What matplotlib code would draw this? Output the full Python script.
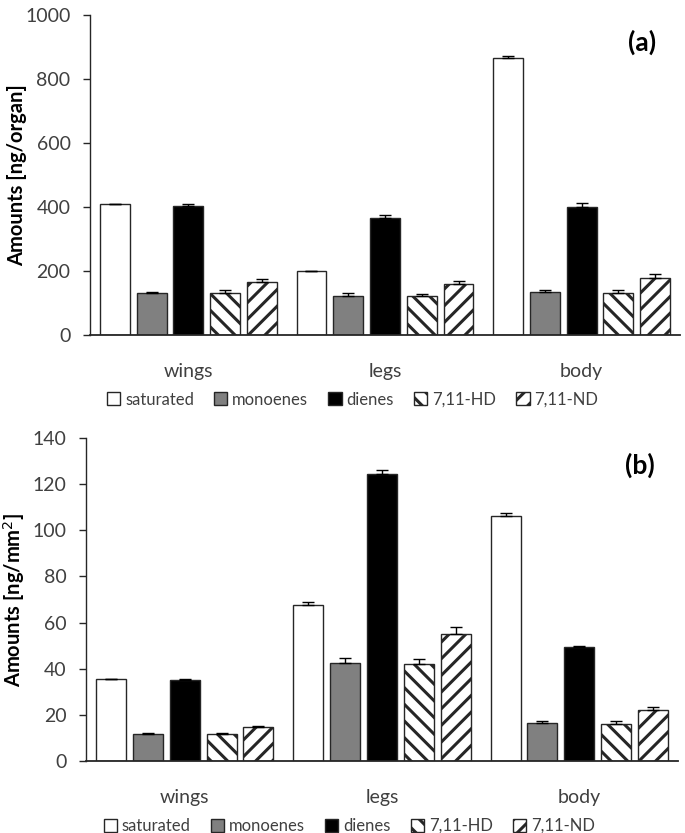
import matplotlib.pyplot as plt
import numpy as np

plt.rcParams['font.family'] = ['Lato', 'DejaVu Sans']
plt.rcParams['hatch.linewidth'] = 2.2

organs = ["wings", "legs", "body"]
series = ["saturated", "monoenes", "dienes", "7,11-HD", "7,11-ND"]

# panel (a): ng/organ
organ_vals = [[409, 201, 865],
              [130, 122, 135],
              [404, 365, 401],
              [130, 123, 130],
              [166, 160, 179]]
organ_err = [[0, 0, 7],
             [4, 8, 5],
             [4, 10, 11],
             [10, 4, 10],
             [9, 10, 11]]

# panel (b): ng/mm2
area_vals = [[35.7, 67.8, 106.0],
             [11.7, 42.4, 16.6],
             [35.1, 124.5, 49.2],
             [11.7, 42.1, 16.2],
             [14.8, 55.0, 22.1]]
area_err = [[0, 1.3, 1.3],
            [0.6, 2.1, 0.8],
            [0.6, 1.5, 0.7],
            [0.5, 1.9, 1.3],
            [0.5, 3.0, 1.5]]

faces = ["white", "#808080", "black", "white", "white"]
hatches = [None, None, None, "\\\\", "//"]
text_col = "#404040"


def draw_panel(ax, vals, errs, ymax, step, ylabel, tag, label_x):
    x = np.arange(len(organs))
    slot = 0.187
    width = 0.152
    for i, name in enumerate(series):
        pos = x + (i - 2) * slot
        e = np.array(errs[i])
        ax.bar(pos, vals[i], width, color=faces[i], edgecolor="#262626",
               linewidth=1.0, hatch=hatches[i], label=name,
               yerr=[np.zeros_like(e), e], capsize=4.5,
               error_kw=dict(elinewidth=1, capthick=1, ecolor="black"))
    ax.set_xlim(-0.5, 2.5)
    ax.set_ylim(0, ymax)
    ax.set_yticks(np.arange(0, ymax + 1, step))
    ax.set_xticks(x)
    ax.set_xticklabels(organs)
    ax.tick_params(axis="both", labelsize=14, labelcolor=text_col)
    ax.tick_params(axis="x", length=0, pad=20)
    ax.tick_params(axis="y", length=5, width=1, color="#262626", pad=9)
    for s in ["top", "right"]:
        ax.spines[s].set_visible(False)
    ax.spines["left"].set_color("#262626")
    ax.spines["bottom"].set_color("#262626")
    ax.spines["left"].set_linewidth(1.0)
    ax.spines["bottom"].set_linewidth(1.3)
    ax.set_ylabel(ylabel, fontsize=14.5, fontweight="bold")
    ax.yaxis.set_label_coords(label_x, 0.5)
    ax.text(0.935, 0.915, tag, transform=ax.transAxes, fontsize=19,
            fontweight="bold", ha="center", va="center")
    ax.legend(loc="upper center", bbox_to_anchor=(0.445, -0.13), ncol=5,
              frameon=False, fontsize=12, handlelength=0.8, handleheight=0.8,
              handletextpad=0.3, columnspacing=1.2, labelcolor=text_col)


fig = plt.figure(figsize=(6.85, 8.33), dpi=100)
ax1 = fig.add_axes([90 / 685, 1 - 335 / 833, 590 / 685, 320 / 833])
ax2 = fig.add_axes([86 / 685, 1 - 761 / 833, 592 / 685, 323 / 833])

draw_panel(ax1, organ_vals, organ_err, 1000, 200, "Amounts [ng/organ]", "(a)",
           (27 - 90) / 590)
draw_panel(ax2, area_vals, area_err, 140, 20, "Amounts [ng/mm$^2$]", "(b)",
           (27 - 86) / 592)

fig.savefig("out.png", dpi=100)
